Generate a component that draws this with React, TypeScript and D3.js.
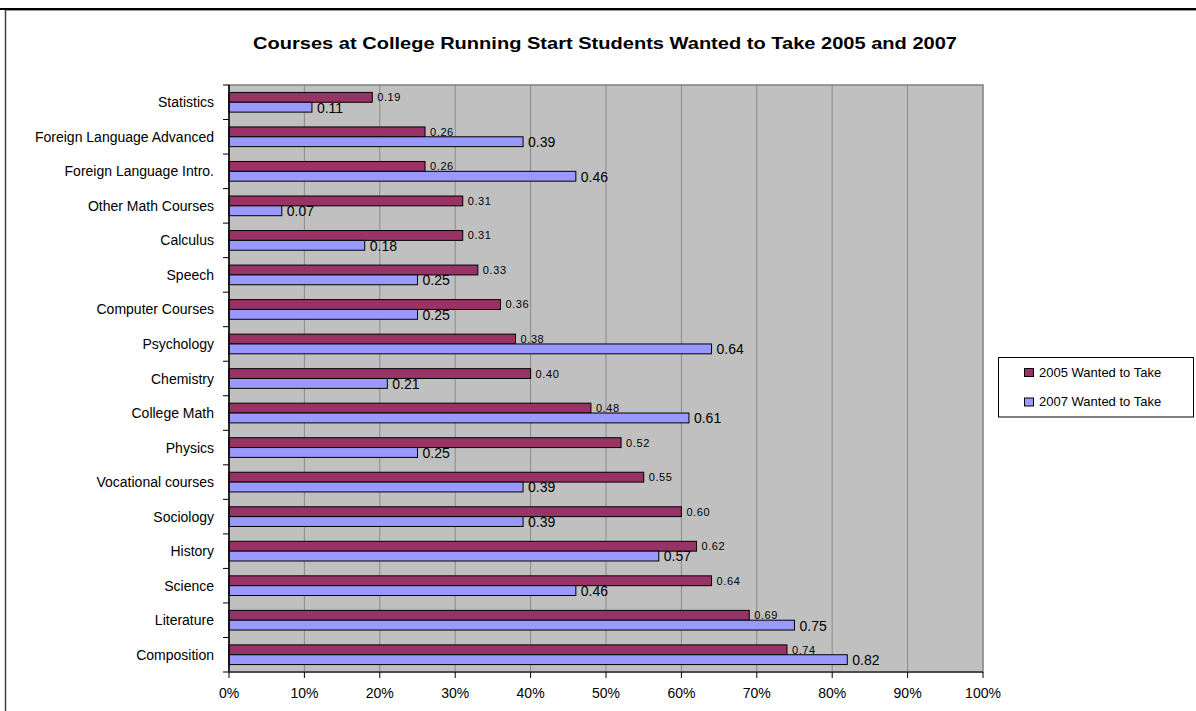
import React from "react";
import * as d3 from "d3";

const categories = [
  "Statistics",
  "Foreign Language Advanced",
  "Foreign Language Intro.",
  "Other Math Courses",
  "Calculus",
  "Speech",
  "Computer Courses",
  "Psychology",
  "Chemistry",
  "College Math",
  "Physics",
  "Vocational courses",
  "Sociology",
  "History",
  "Science",
  "Literature",
  "Composition",
];

const values2005 = [0.19, 0.26, 0.26, 0.31, 0.31, 0.33, 0.36, 0.38, 0.40, 0.48, 0.52, 0.55, 0.60, 0.62, 0.64, 0.69, 0.74];
const values2007 = [0.11, 0.39, 0.46, 0.07, 0.18, 0.25, 0.25, 0.64, 0.21, 0.61, 0.25, 0.39, 0.39, 0.57, 0.46, 0.75, 0.82];

const seriesNames = ["2005 Wanted to Take", "2007 Wanted to Take"];
const xTicks = [0, 0.1, 0.2, 0.3, 0.4, 0.5, 0.6, 0.7, 0.8, 0.9, 1.0];
const title = "Courses at College Running Start Students Wanted to Take 2005 and 2007";

const COLOR_2005 = "#993366";
const COLOR_2007 = "#9999FF";
const FONT = "'Liberation Sans', Arial, sans-serif";

export default function App() {
  const W = 1196;
  const H = 711;
  const plot = { left: 229, right: 983, top: 85, bottom: 672 };

  const x = d3.scaleLinear().domain([0, 1]).range([plot.left, plot.right]);
  const y = d3
    .scaleBand<string>()
    .domain(categories)
    .range([plot.top, plot.bottom])
    .paddingInner(0)
    .paddingOuter(0);
  const bw = y.bandwidth();
  const barH = bw * 0.285;
  const barOff = bw * 0.215;
  const fmt = d3.format(".2f");
  const pct = d3.format(".0%");

  const boundaries = d3.range(categories.length + 1).map((i) => plot.top + i * bw);

  return (
    <svg
      width={W}
      height={H}
      style={{ position: "absolute", left: 0, top: 0, background: "#fff" }}
      fontFamily={FONT}
    >
      <rect x={0} y={0} width={W} height={H} fill="#fff" />
      {/* outer frame */}
      <line x1={0} x2={W} y1={9} y2={9} stroke="#000" strokeWidth={2} />
      <line x1={5} x2={W} y1={10.5} y2={10.5} stroke="#9a9a9a" strokeWidth={1} />
      <line x1={5.5} x2={5.5} y1={10} y2={H} stroke="#404040" strokeWidth={1.5} />

      {/* title */}
      <text
        x={(plot.left + plot.right) / 2 - 1}
        y={48.5}
        textAnchor="middle"
        fontWeight="bold"
        fontSize={16.5}
        textLength={704}
        lengthAdjust="spacingAndGlyphs"
        fill="#000"
      >
        {title}
      </text>

      {/* plot area */}
      <rect
        x={plot.left}
        y={plot.top}
        width={plot.right - plot.left}
        height={plot.bottom - plot.top}
        fill="#C0C0C0"
        stroke="#808080"
        strokeWidth={1.5}
      />
      {xTicks.slice(1, -1).map((t) => (
        <line
          key={"g" + t}
          x1={x(t)}
          x2={x(t)}
          y1={plot.top}
          y2={plot.bottom}
          stroke="#8a8a8a"
          strokeWidth={1}
        />
      ))}

      {/* bars */}
      {categories.map((c, i) => {
        const y0 = (y(c) as number) + barOff;
        return (
          <g key={c}>
            <rect
              x={x(0)}
              y={y0}
              width={x(values2005[i]) - x(0)}
              height={barH}
              fill={COLOR_2005}
              stroke="#000"
              strokeWidth={1}
            />
            <rect
              x={x(0)}
              y={y0 + barH}
              width={x(values2007[i]) - x(0)}
              height={barH}
              fill={COLOR_2007}
              stroke="#000"
              strokeWidth={1}
            />
            <text
              x={x(values2005[i]) + 5}
              y={y0 + barH - 1}
              fontSize={11}
              letterSpacing={0.6}
              fill="#000"
            >
              {fmt(values2005[i])}
            </text>
            <text
              x={x(values2007[i]) + 5}
              y={y0 + 2 * barH + 0.5}
              fontSize={14}
              fill="#000"
            >
              {fmt(values2007[i])}
            </text>
            <text
              x={plot.left - 15}
              y={(y(c) as number) + bw / 2 + 5}
              textAnchor="end"
              fontSize={14}
              fill="#000"
            >
              {c}
            </text>
          </g>
        );
      })}

      {/* axes */}
      <line x1={plot.left} x2={plot.left} y1={plot.top} y2={plot.bottom} stroke="#000" strokeWidth={1.5} />
      <line x1={plot.left} x2={plot.right} y1={plot.bottom} y2={plot.bottom} stroke="#333" strokeWidth={1.5} />
      {boundaries.map((b, i) => (
        <line key={"yt" + i} x1={plot.left - 6} x2={plot.left} y1={b} y2={b} stroke="#000" strokeWidth={1} />
      ))}
      {xTicks.map((t) => (
        <g key={"xt" + t}>
          <line x1={x(t)} x2={x(t)} y1={plot.bottom} y2={plot.bottom + 6} stroke="#000" strokeWidth={1} />
          <text x={x(t)} y={698} textAnchor="middle" fontSize={14} fill="#000">
            {pct(t)}
          </text>
        </g>
      ))}

      {/* legend */}
      <rect x={998.5} y={357.5} width={195} height={59.5} fill="#fff" stroke="#000" strokeWidth={1} />
      {seriesNames.map((s, i) => (
        <g key={s}>
          <rect
            x={1024.5}
            y={368.5 + i * 29.5}
            width={9}
            height={8}
            fill={i === 0 ? COLOR_2005 : COLOR_2007}
            stroke="#000"
            strokeWidth={1}
          />
          <text x={1039} y={376.5 + i * 29.5} fontSize={13} fill="#000">
            {s}
          </text>
        </g>
      ))}
    </svg>
  );
}
